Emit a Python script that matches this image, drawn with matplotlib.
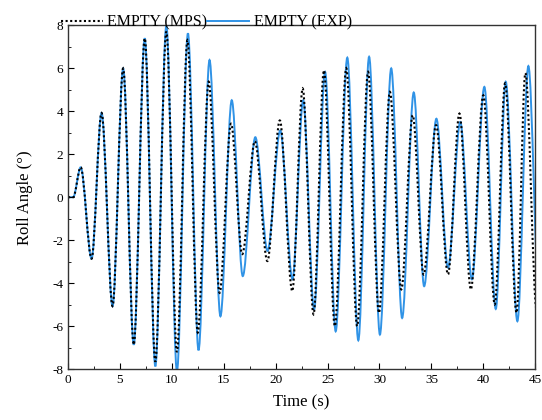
import matplotlib.pyplot as plt
from matplotlib.path import Path
from matplotlib.patches import PathPatch
from matplotlib.lines import Line2D

# turning points (time in s, roll angle in deg)
exp_t = [0, 0.5, 1.22, 2.27, 3.23, 4.29, 5.31, 6.33, 7.39, 8.41, 9.47, 10.49,
         11.55, 12.57, 13.63, 14.68, 15.77, 16.83, 18.04, 19.22, 20.44, 21.62,
         22.65, 23.7, 24.76, 25.78, 26.9, 27.96, 29.0, 30.04, 31.13, 32.18,
         33.3, 34.3, 35.48, 36.6, 37.78, 38.9, 40.1, 41.2, 42.16, 43.28, 44.34, 45.4]
exp_v = [0, 0, 1.39, -2.86, 3.92, -5.07, 5.99, -6.86, 7.39, -7.87, 7.98, -8.1,
         7.62, -7.12, 6.38, -5.54, 4.51, -3.67, 2.79, -2.5, 3.1, -3.82,
         4.51, -5.22, 5.83, -6.24, 6.49, -6.66, 6.53, -6.39, 5.99, -5.62,
         4.87, -4.14, 3.65, -3.28, 3.5, -3.82, 5.13, -5.2, 5.37, -5.77, 6.1, -5.0]

mps_t = [0, 0.5, 1.22, 2.27, 3.23, 4.29, 5.31, 6.33, 7.39, 8.41, 9.47, 10.49,
         11.5, 12.5, 13.55, 14.6, 15.7, 16.78, 18.0, 19.2, 20.4, 21.6,
         22.6, 23.65, 24.65, 25.7, 26.8, 27.85, 28.9, 29.95, 31.0, 32.1,
         33.2, 34.25, 35.45, 36.6, 37.7, 38.8, 40.0, 41.1, 42.1, 43.2, 44.05, 45.15]
mps_v = [0, 0, 1.39, -2.86, 3.92, -5.07, 5.99, -6.86, 7.39, -7.65, 7.7, -7.2,
         7.3, -6.3, 5.37, -4.45, 3.42, -2.65, 2.6, -2.97, 3.57, -4.37,
         5.06, -5.45, 5.9, -6.0, 6.0, -6.0, 5.83, -5.38, 4.9, -4.29,
         3.81, -3.6, 3.35, -3.59, 3.89, -4.29, 4.74, -4.99, 5.3, -5.38, 5.77, -5.3]

x_ticks = [0, 5, 10, 15, 20, 25, 30, 35, 40, 45]
y_ticks = [-8, -6, -4, -2, 0, 2, 4, 6, 8]

BLUE = "#3093e6"


def smooth_path(t, v):
    # cubic bezier between turning points, flat tangents at each one
    verts = [(t[0], v[0])]
    codes = [Path.MOVETO]
    for i in range(len(t) - 1):
        dt = t[i + 1] - t[i]
        verts += [(t[i] + dt / 3, v[i]), (t[i + 1] - dt / 3, v[i + 1]), (t[i + 1], v[i + 1])]
        codes += [Path.CURVE4] * 3
    return Path(verts, codes)


plt.rcParams["font.family"] = ["Liberation Serif", "DejaVu Serif"]
plt.rcParams["axes.unicode_minus"] = False

fig = plt.figure(figsize=(5.42, 4.2), dpi=100)
ax = fig.add_axes([0.1255, 0.121, 0.862, 0.819])

ax.add_patch(PathPatch(smooth_path(exp_t, exp_v), fill=False, edgecolor=BLUE, lw=1.4))
ax.add_patch(PathPatch(smooth_path(mps_t, mps_v), fill=False, edgecolor="black",
                       lw=1.5, linestyle=(0, (1, 1.2))))

ax.set_xlim(0, 45)
ax.set_ylim(-8, 8)
ax.set_xticks(x_ticks)
ax.set_yticks(y_ticks)
ax.set_xticks([x + 2.5 for x in x_ticks[:-1]], minor=True)
ax.set_yticks(range(-7, 8, 2), minor=True)
ax.tick_params(which="both", direction="in", labelsize=9.5)
ax.tick_params(which="major", length=4)
ax.tick_params(which="minor", length=2.5)
for s in ax.spines.values():
    s.set_linewidth(1.0)
    s.set_color("#333333")

ax.set_xlabel("Time (s)", fontsize=12, labelpad=6)
ax.set_ylabel("Roll Angle (°)", fontsize=12, labelpad=14)

handles = [Line2D([], [], color="black", lw=1.5, linestyle=(0, (1, 1.2))),
           Line2D([], [], color=BLUE, lw=1.4)]
ax.legend(handles, ["EMPTY (MPS)", "EMPTY (EXP)"], ncol=2, frameon=False,
          loc="lower left", bbox_to_anchor=(-0.015, 0.985), fontsize=11.5,
          handlelength=2.6, handletextpad=0.3, columnspacing=0.0,
          borderaxespad=0, borderpad=0)

fig.savefig("out.png", dpi=100)
